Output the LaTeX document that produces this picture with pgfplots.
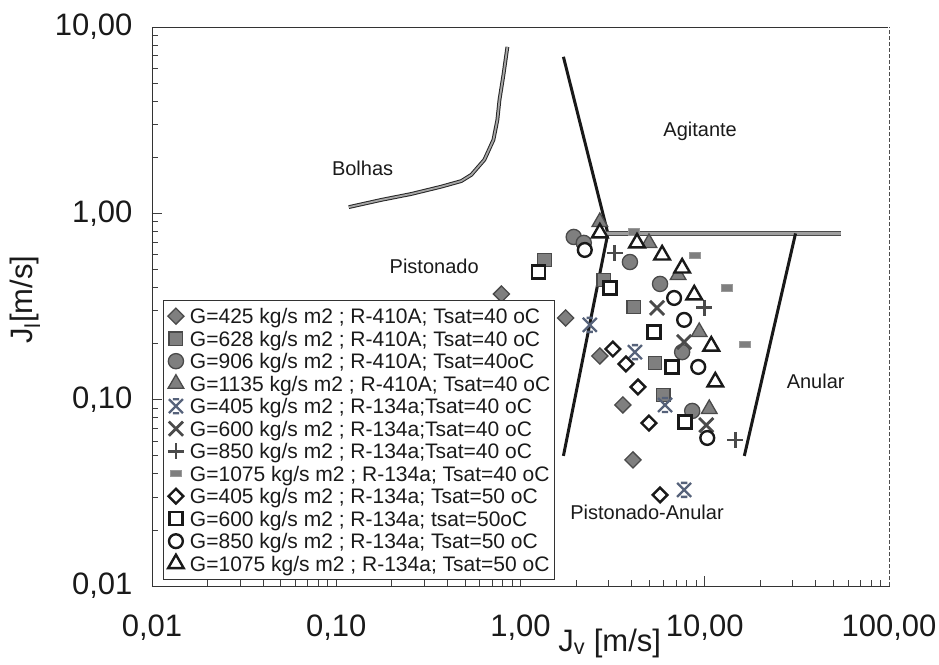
\documentclass[border=0pt]{standalone}
\usepackage{fontspec}
\setmainfont{Liberation Sans}
\usepackage{pgfplots}
\pgfplotsset{compat=1.18}

\definecolor{mgray}{HTML}{7F7F7F}
\definecolor{dgray}{HTML}{4A4A4A}
\definecolor{bgray}{HTML}{56627A}
\definecolor{txt}{HTML}{1A1A1A}

% X with short bars on top and bottom
\pgfdeclareplotmark{xstar}{%
  \pgfpathmoveto{\pgfqpoint{-\pgfplotmarksize}{-\pgfplotmarksize}}%
  \pgfpathlineto{\pgfqpoint{\pgfplotmarksize}{\pgfplotmarksize}}%
  \pgfpathmoveto{\pgfqpoint{-\pgfplotmarksize}{\pgfplotmarksize}}%
  \pgfpathlineto{\pgfqpoint{\pgfplotmarksize}{-\pgfplotmarksize}}%
  \pgfpathmoveto{\pgfqpoint{-0.45\pgfplotmarksize}{\pgfplotmarksize}}%
  \pgfpathlineto{\pgfqpoint{0.45\pgfplotmarksize}{\pgfplotmarksize}}%
  \pgfpathmoveto{\pgfqpoint{-0.45\pgfplotmarksize}{-\pgfplotmarksize}}%
  \pgfpathlineto{\pgfqpoint{0.45\pgfplotmarksize}{-\pgfplotmarksize}}%
  \pgfusepathqstroke}
% small filled bar
\pgfdeclareplotmark{dashbar}{%
  \pgfpathrectangle{\pgfqpoint{-\pgfplotmarksize}{-0.55\pgfplotmarksize}}{\pgfqpoint{2\pgfplotmarksize}{1.1\pgfplotmarksize}}%
  \pgfusepathqfillstroke}

\begin{document}
\begin{tikzpicture}
\begin{axis}[
  at={(0pt,0pt)}, anchor=south west,
  scale only axis, width=737pt, height=559pt,
  xmode=log, ymode=log,
  xmin=0.01, xmax=100, ymin=0.01, ymax=10,
  xtick={0.01,0.1,1,10,100},
  xticklabels={{0,01},{0,10},{1,00},{10,00},{100,00}},
  ytick={0.01,0.1,1,10},
  yticklabels={{0,01},{0,10},{1,00},{10,00}},
  xtick pos=lower, ytick pos=left,
  tick align=inside,
  major tick length=10pt, minor tick length=6pt,
  tick style={black!75, line width=0.8pt},
  axis line style={black!80, line width=0.9pt},
  ticklabel style={font=\fontsize{31}{36}\selectfont, text=txt},
  xticklabel style={yshift=-25pt},
  yticklabel style={xshift=-16pt},
  xlabel={J\textsubscript{v} [m/s]},
  ylabel={J\textsubscript{l}[m/s]},
  label style={font=\fontsize{31}{36}\selectfont, text=txt},
  xlabel style={at={(axis description cs:0.621,-0.102)}, anchor=center},
  ylabel style={at={(axis description cs:-0.172,0.512)}, anchor=center},
  legend cell align=left,
  legend image code/.code={\draw[#1] plot coordinates {(0pt,0pt)};},
  legend style={at={(axis description cs:0.0149,0.5116)}, anchor=north west,
    draw=black!80, line width=0.8pt, fill=white, inner sep=4.5pt,
    row sep=0pt, column sep=6pt,
    font=\fontsize{21}{22}\selectfont, text=txt,
    nodes={inner sep=0pt, text height=18.6pt, text depth=3.9pt}},
  clip=false,
]
% regime boundaries
\addplot[forget plot, draw=black!85, line width=3.8pt, line join=round] coordinates {
  (0.117,1.08)(0.175,1.18)(0.255,1.27)(0.371,1.39)(0.477,1.49)(0.541,1.61)
  (0.637,1.94)(0.713,2.48)(0.749,3.17)(0.769,4.06)(0.808,5.53)(0.849,7.82)};
\addplot[forget plot, draw=gray!70, line width=1.8pt, line join=round] coordinates {
  (0.117,1.08)(0.175,1.18)(0.255,1.27)(0.371,1.39)(0.477,1.49)(0.541,1.61)
  (0.637,1.94)(0.713,2.48)(0.749,3.17)(0.769,4.06)(0.808,5.53)(0.849,7.82)};
\addplot[forget plot, draw=black!90, line width=3pt, line join=round] coordinates {
  (1.71,6.92)(2.98,0.78)(1.71,0.0499)};
\addplot[forget plot, draw=dgray, line width=4.2pt] coordinates {(2.9,0.78)(54.7,0.78)};
\addplot[forget plot, draw=gray!75, line width=2.2pt] coordinates {(2.9,0.78)(54.7,0.78)};
\addplot[forget plot, draw=black!90, line width=3pt] coordinates {(31.1,0.78)(16.4,0.0499)};

% R-410A, Tsat = 40 oC
\addplot[only marks, mark=square*, mark size=5.7pt,
  mark options={rotate=45, fill=mgray, draw=dgray, line width=1.3pt}] coordinates {
  (0.788,0.369)(1.759,0.2745)(2.695,0.1716)(3.596,0.0937)(4.077,0.0475)};
\addlegendentry{G=425 kg/s m2 ; R-410A; Tsat=40 oC}
\addplot[only marks, mark=square*, mark size=6.8pt,
  mark options={fill=mgray, draw=dgray, line width=1.3pt}] coordinates {
  (1.352,0.562)(2.833,0.439)(4.128,0.3145)(5.373,0.1574)(5.94,0.106)};
\addlegendentry{G=628 kg/s m2 ; R-410A; Tsat=40 oC}
\addplot[only marks, mark=*, mark size=7.6pt,
  mark options={fill=mgray, draw=dgray, line width=1.3pt}] coordinates {
  (1.945,0.747)(2.205,0.694)(3.926,0.548)(5.72,0.418)(7.54,0.180)(8.55,0.087)};
\addlegendentry{G=906 kg/s m2 ; R-410A; Tsat=40oC}
\addplot[only marks, mark=triangle*, mark size=9pt,
  mark options={fill=mgray, draw=dgray, line width=1.3pt}] coordinates {
  (2.695,0.899)(4.98,0.694)(7.17,0.467)(9.33,0.231)(10.58,0.0892)};
\addlegendentry{G=1135 kg/s m2 ; R-410A; Tsat=40 oC}
% R-134a, Tsat = 40 oC
\addplot[only marks, mark=xstar, mark size=7pt,
  mark options={draw=bgray, line width=2.3pt}] coordinates {
  (2.377,0.252)(4.18,0.180)(6.09,0.0937)(7.73,0.0328)};
\addlegendentry{G=405 kg/s m2 ; R-134a;Tsat=40 oC}
\addplot[only marks, mark=x, mark size=10pt,
  mark options={draw=dgray, line width=2.8pt}] coordinates {
  (5.51,0.311)(7.73,0.204)(10.19,0.0731)};
\addlegendentry{G=600 kg/s m2 ; R-134a;Tsat=40 oC}
\addplot[only marks, mark=+, mark size=8pt,
  mark options={draw=dgray, line width=2.8pt}] coordinates {
  (3.253,0.613)(9.94,0.311)(14.66,0.0608)};
\addlegendentry{G=850 kg/s m2 ; R-134a;Tsat=40 oC}
\addplot[only marks, mark=dashbar, mark size=5.5pt,
  mark options={fill=mgray, draw=gray!80, line width=0.8pt}] coordinates {
  (4.128,0.795)(8.88,0.598)(13.26,0.398)(16.62,0.199)};
\addlegendentry{G=1075 kg/s m2 ; R-134a; Tsat=40 oC}
% R-134a, Tsat = 50 oC
\addplot[only marks, mark=square*, mark size=5.2pt,
  mark options={rotate=45, fill=white, draw=black!90, line width=2.4pt}] coordinates {
  (3.172,0.187)(3.735,0.1555)(4.34,0.117)(4.98,0.0749)(5.72,0.0308)};
\addlegendentry{G=405 kg/s m2 ; R-134a; Tsat=50 oC}
\addplot[only marks, mark=square*, mark size=6.5pt,
  mark options={fill=white, draw=black!90, line width=2.4pt}] coordinates {
  (1.253,0.485)(3.055,0.398)(5.305,0.231)(6.65,0.1498)(7.83,0.0759)};
\addlegendentry{G=600 kg/s m2 ; R-134a; tsat=50oC}
\addplot[only marks, mark=*, mark size=6.9pt,
  mark options={fill=white, draw=black!90, line width=2.4pt}] coordinates {
  (2.233,0.636)(6.82,0.3515)(7.73,0.268)(9.22,0.1498)(10.32,0.0623)};
\addlegendentry{G=850 kg/s m2 ; R-134a; Tsat=50 oC}
\addplot[only marks, mark=triangle*, mark size=9pt,
  mark options={fill=white, draw=black!90, line width=2.4pt}] coordinates {
  (2.695,0.785)(4.29,0.694)(5.87,0.598)(7.54,0.509)(8.77,0.365)(10.85,0.194)(11.41,0.1245)};
\addlegendentry{G=1075 kg/s m2 ; R-134a; Tsat=50 oC}

% regime names
\begin{scope}[every node/.style={font=\fontsize{20}{24}\selectfont, text=txt}]
\node at (axis cs:0.139,1.75) {Bolhas};
\node at (axis cs:9.44,2.74) {Agitante};
\node at (axis cs:0.34,0.522) {Pistonado};
\node at (axis cs:40,0.126) {Anular};
\node at (axis cs:4.86,0.0249) {Pistonado-Anular};
\end{scope}
% dashed right frame edge
\draw[white, line width=1.4pt] (rel axis cs:1,0) -- (rel axis cs:1,1);
\draw[black!70, line width=0.9pt, dash pattern=on 4pt off 2pt] (rel axis cs:1,0) -- (rel axis cs:1,1);
\end{axis}
\pgfresetboundingbox
\path (-152pt,-78pt) rectangle (787pt,586pt);
\end{tikzpicture}
\end{document}
